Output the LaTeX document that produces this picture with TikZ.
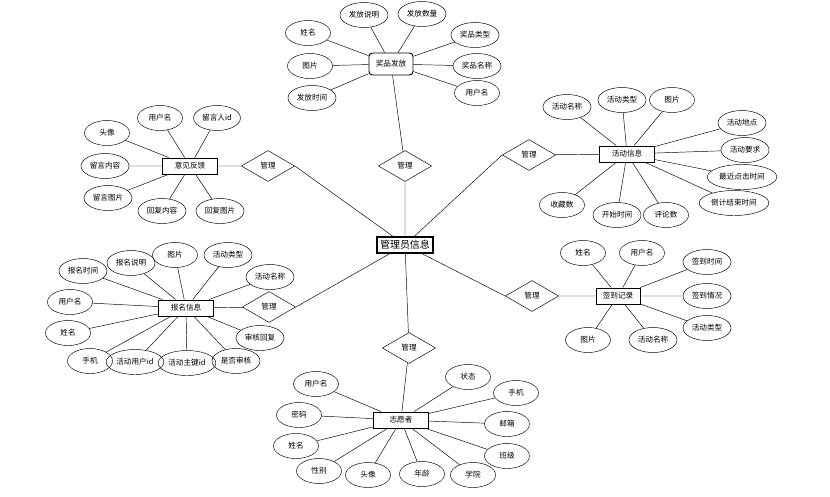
\documentclass[tikz,border=0pt]{standalone}
\usepackage{fontspec}
\setmainfont{Noto Sans CJK SC}
\usetikzlibrary{shapes.geometric}

\begin{document}
\begin{tikzpicture}[
		x=0.03cm,
		y=-0.03cm,
		attr/.style={
				draw,
				ellipse,
				inner xsep=1.5pt,
				inner ysep=0.5pt,
				minimum width=1.35cm,  % Smallest attribute oval
				minimum height=0.75cm,
				font=\fontsize{6.5}{7}\selectfont
			},
		entity/.style={
				draw,
				thick,
				minimum width=1.65cm,
				minimum height=0.48cm,
				inner sep=1pt,
				font=\fontsize{6.5}{7}\selectfont
			},
		rel/.style={
				draw,
				diamond,
				minimum width=1.6cm,
				minimum height=0.93cm,
				inner sep=0pt,
				font=\fontsize{6.5}{7}\selectfont
			}
	]
	\useasboundingbox (0,0) rectangle (830,496);

	% centre
	\node[entity, very thick, minimum width=1.68cm, font=\fontsize{8.5}{9}\selectfont] (admin) at (405,245) {管理员信息};

	% prize handout
	\node[entity, rounded corners=3pt, minimum width=1.32cm, minimum height=0.66cm] (prize) at (391,64) {奖品发放};
	\node[rel] (r0) at (405,166) {管理};
	\node[attr] (p1) at (364,15) {发放说明};
	\node[attr] (p2) at (422,14) {发放数量};
	\node[attr] (p3) at (308,33) {姓名};
	\node[attr] (p4) at (310,66) {图片};
	\node[attr] (p5) at (312,98) {发放时间};
	\node[attr] (p6) at (475,35) {奖品类型};
	\node[attr] (p7) at (477,66) {奖品名称};
	\node[attr] (p8) at (477,93) {用户名};
	\draw (prize) -- (r0) -- (admin);
	\draw (prize) -- (p1) (prize) -- (p2) (prize) -- (p3) (prize) -- (p4)
	(prize) -- (p5) (prize) -- (p6) (prize) -- (p7) (prize) -- (p8);

	% activity info
	\node[entity] (act) at (627,154) {活动信息};
	\node[rel] (r1) at (529,155) {管理};
	\node[attr] (a1) at (567,107) {活动名称};
	\node[attr] (a2) at (622,100) {活动类型};
	\node[attr] (a3) at (672,100) {图片};
	\node[attr] (a4) at (742,123) {活动地点};
	\node[attr] (a5) at (745,150) {活动要求};
	\node[attr] (a6) at (742,177) {最近点击时间};
	\node[attr] (a7) at (734,203) {倒计结束时间};
	\node[attr] (a8) at (562,205) {收藏数};
	\node[attr] (a9) at (617,215) {开始时间};
	\node[attr] (a10) at (666,215) {评论数};
	\draw (admin) -- (r1.west) (r1) -- (act);
	\draw (act) -- (a1) (act) -- (a2) (act) -- (a3) (act) -- (a4) (act) -- (a5)
	(act) -- (a6) (act) -- (a7) (act) -- (a8) (act) -- (a9) (act) -- (a10);

	% feedback
	\node[entity] (fb) at (190,166) {意见反馈};
	\node[rel] (r2) at (268,166) {管理};
	\node[attr] (f1) at (107,133) {头像};
	\node[attr] (f2) at (160,118) {用户名};
	\node[attr] (f3) at (217,118) {留言人id};
	\node[attr] (f4) at (105,166) {留言内容};
	\node[attr] (f5) at (108,198) {留言图片};
	\node[attr] (f6) at (162,211) {回复内容};
	\node[attr] (f7) at (220,211) {回复图片};
	\draw (fb) -- (r2) (r2.east) -- (admin);
	\draw (fb) -- (f1) (fb) -- (f2) (fb) -- (f3) (fb) -- (f4)
	(fb) -- (f5) (fb) -- (f6) (fb) -- (f7);

	% sign-up info
	\node[entity] (sign) at (186,308) {报名信息};
	\node[rel] (r3) at (269,307) {管理};
	\node[attr] (s1) at (83,271) {报名时间};
	\node[attr] (s2) at (131,263) {报名说明};
	\node[attr] (s3) at (175,255) {图片};
	\node[attr] (s4) at (228,255) {活动类型};
	\node[attr] (s5) at (270,277) {活动名称};
	\node[attr] (s6) at (70,302) {用户名};
	\node[attr] (s7) at (68,333) {姓名};
	\node[attr] (s8) at (90,361) {手机};
	\node[attr] (s9) at (135,362) {活动用户id};
	\node[attr] (s10) at (187,363) {活动主键id};
	\node[attr] (s11) at (236,361) {是否审核};
	\node[attr] (s12) at (260,338) {审核回复};
	\draw (sign) -- (r3) (r3.east) -- (admin);
	\draw (sign) -- (s1) (sign) -- (s2) (sign) -- (s3) (sign) -- (s4)
	(sign) -- (s5) (sign) -- (s6) (sign) -- (s7) (sign) -- (s8)
	(sign) -- (s9) (sign) -- (s10) (sign) -- (s11) (sign) -- (s12);

	% check-in records
	\node[entity, minimum width=1.32cm] (chk) at (618,296) {签到记录};
	\node[rel] (r4) at (532,296) {管理};
	\node[attr] (c1) at (583,253) {姓名};
	\node[attr] (c2) at (642,253) {用户名};
	\node[attr] (c3) at (707,262) {签到时间};
	\node[attr] (c4) at (707,296) {签到情况};
	\node[attr] (c5) at (707,328) {活动类型};
	\node[attr] (c6) at (588,340) {图片};
	\node[attr] (c7) at (653,340) {活动名称};
	\draw (admin) -- (r4.west) (r4) -- (chk);
	\draw (chk) -- (c1) (chk) -- (c2) (chk) -- (c3) (chk) -- (c4)
	(chk) -- (c5) (chk) -- (c6) (chk) -- (c7);

	% volunteer
	\node[entity] (vol) at (401,420) {志愿者};
	\node[rel] (r5) at (409,348) {管理};
	\node[attr] (v1) at (316,384) {用户名};
	\node[attr] (v2) at (299,415) {密码};
	\node[attr] (v3) at (296,446) {姓名};
	\node[attr] (v4) at (319,471) {性别};
	\node[attr] (v5) at (368,475) {头像};
	\node[attr] (v6) at (422,474) {年龄};
	\node[attr] (v7) at (473,475) {学院};
	\node[attr] (v8) at (468,377) {状态};
	\node[attr] (v9) at (516,393) {手机};
	\node[attr] (v10) at (507,424) {邮箱};
	\node[attr] (v11) at (507,456) {班级};
	\draw (admin) -- (r5) -- (vol);
	\draw (vol) -- (v1) (vol) -- (v2) (vol) -- (v3) (vol) -- (v4)
	(vol) -- (v5) (vol) -- (v6) (vol) -- (v7) (vol) -- (v8)
	(vol) -- (v9) (vol) -- (v10) (vol) -- (v11);
\end{tikzpicture}
\end{document}
